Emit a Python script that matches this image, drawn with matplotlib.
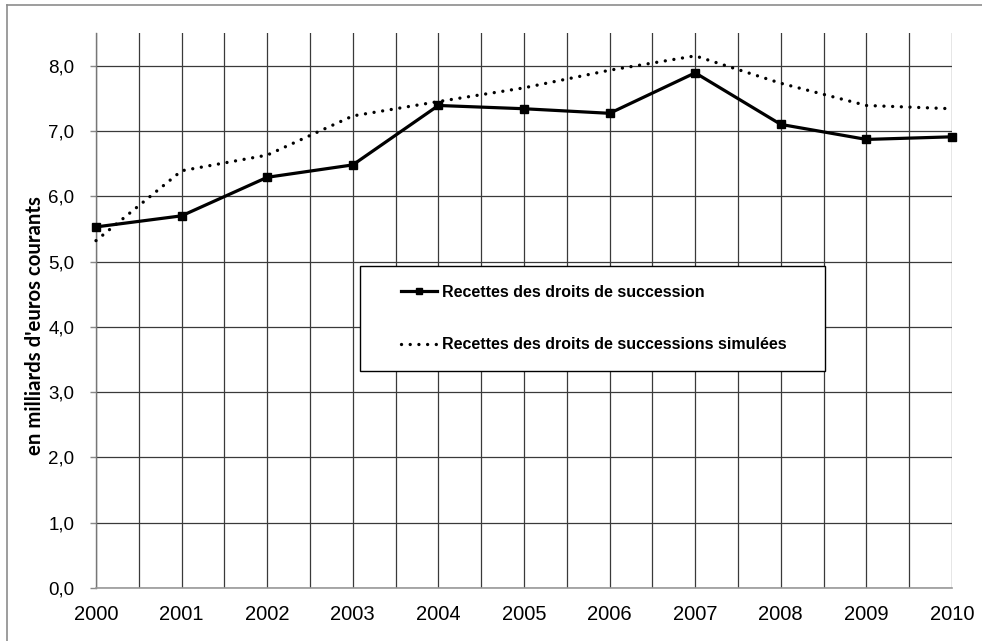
import matplotlib
matplotlib.use("Agg")
import matplotlib.pyplot as plt
from matplotlib.ticker import FuncFormatter, MultipleLocator
from matplotlib.lines import Line2D
from matplotlib.patches import Rectangle

plt.rcParams['font.family'] = ['Liberation Sans', 'DejaVu Sans']

years = [2000, 2001, 2002, 2003, 2004, 2005, 2006, 2007, 2008, 2009, 2010]
recettes = [5.53, 5.70, 6.29, 6.48, 7.39, 7.34, 7.27, 7.89, 7.10, 6.87, 6.91]
recettes_simulees = [5.32, 6.39, 6.63, 7.23, 7.45, 7.66, 7.93, 8.15, 7.73, 7.39, 7.34]
label_recettes = "Recettes des droits de succession"
label_simulees = "Recettes des droits de successions simulées"
y_label = "en milliards d'euros courants"

W, H = 982, 641
fig = plt.figure(figsize=(W / 100, H / 100), dpi=100)
ax = fig.add_axes([96 / W, 1 - 588 / H, (952 - 96) / W, (588 - 33) / H])

ax.set_xlim(2000, 2010)
ax.set_ylim(0, 8.5)

grid_color = '#3a3a3a'
ax.xaxis.set_major_locator(MultipleLocator(1))
ax.xaxis.set_minor_locator(MultipleLocator(0.5))
ax.yaxis.set_major_locator(MultipleLocator(1))
ax.grid(True, which='major', axis='both', color=grid_color, lw=0.9)
ax.grid(True, which='minor', axis='x', color=grid_color, lw=0.9)
ax.set_axisbelow(True)

for side in ('top', 'right'):
    ax.spines[side].set_visible(False)
ax.spines['left'].set_color('#777777')
ax.spines['bottom'].set_color('#999999')
ax.spines['left'].set_linewidth(1.0)
ax.spines['bottom'].set_linewidth(1.2)

ax.yaxis.set_major_formatter(FuncFormatter(lambda v, p: f"{v:.1f}".replace('.', ',')))
ax.xaxis.set_major_formatter(FuncFormatter(lambda v, p: f"{int(round(v))}"))
ax.tick_params(axis='y', which='major', length=4.5, width=1.0, color='#888888',
               pad=11, labelsize=13.5, labelcolor='black')
ax.tick_params(axis='x', which='both', length=0, pad=12, labelsize=14.5)

ax.set_ylabel(y_label, fontsize=14.7, fontweight='bold', family=['Lato', 'DejaVu Sans'])
ax.yaxis.set_label_coords((45 - 96) / (952 - 96), (588 - 326) / (588 - 33))

l1, = ax.plot(years, recettes, color='black', lw=2.3, marker='s', ms=6,
              solid_joinstyle='miter', clip_on=False, zorder=4)
l2, = ax.plot(years, recettes_simulees, color='black', lw=2.4,
              linestyle=(0, (0.01, 2.6)), dash_capstyle='round', clip_on=False, zorder=3)

# legend frame drawn in figure pixels
fig.patches.append(Rectangle((360 / W, 1 - 371 / H), (825 - 360) / W, (371 - 266) / H,
                             transform=fig.transFigure, facecolor='white',
                             edgecolor='black', lw=1.0, zorder=5))
leg = fig.legend([l1, l2], [label_recettes, label_simulees], loc='upper left',
                 bbox_to_anchor=(401 / W, 1 - 285 / H), frameon=False,
                 prop={'weight': 'bold', 'size': 11.5}, handlelength=2.25,
                 handletextpad=0.3, labelspacing=2.34, borderpad=0, borderaxespad=0,
                 markerscale=0.75)
leg.set_zorder(6)

# outer chart border
fig.add_artist(Line2D([7 / W, 7 / W], [0, 1 - 5 / H], transform=fig.transFigure,
                      color='#8c8c8c', lw=1.2))
fig.add_artist(Line2D([7 / W, 1], [1 - 5 / H, 1 - 5 / H], transform=fig.transFigure,
                      color='#8c8c8c', lw=1.2))

fig.savefig("out.png", dpi=100, facecolor='white')
